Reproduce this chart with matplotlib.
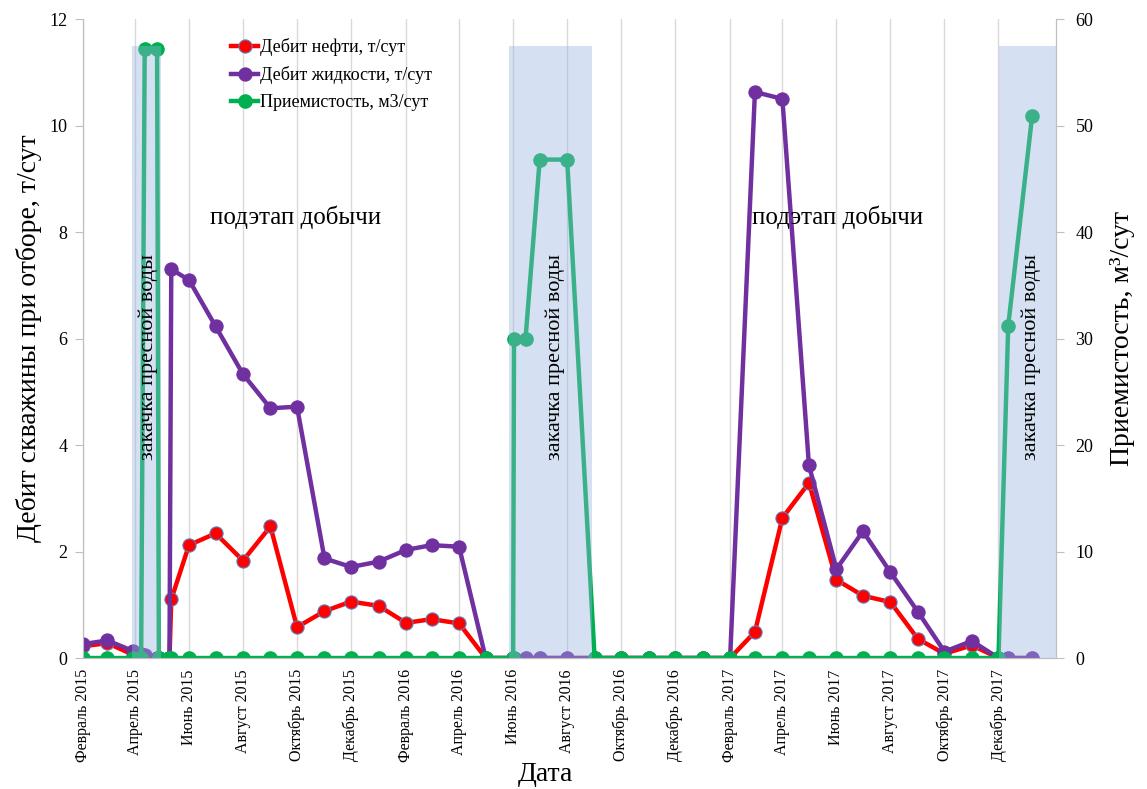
import numpy as np
import matplotlib
matplotlib.use('Agg')
import matplotlib.pyplot as plt
import matplotlib.dates as mdates
from matplotlib.ticker import FuncFormatter, MultipleLocator
from datetime import datetime

plt.rcParams['font.family'] = ['Liberation Serif', 'DejaVu Serif']

# даты замеров
dates = ['2015-02-01', '2015-03-01', '2015-03-30', '2015-04-08', '2015-04-12',
         '2015-04-26', '2015-04-28', '2015-05-10', '2015-05-12',
         '2015-06-01', '2015-07-01', '2015-08-01', '2015-09-01', '2015-10-01',
         '2015-11-01', '2015-12-01', '2016-01-01', '2016-02-01', '2016-03-01',
         '2016-04-01', '2016-05-01',
         '2016-06-01', '2016-06-02', '2016-06-15', '2016-07-01', '2016-08-01',
         '2016-09-01', '2016-10-01', '2016-11-01', '2016-12-01',
         '2017-01-01', '2017-02-01', '2017-03-01', '2017-04-01', '2017-05-01',
         '2017-06-01', '2017-07-01', '2017-08-01', '2017-09-01', '2017-10-01',
         '2017-11-01', '2017-12-01', '2017-12-12', '2018-01-08']

oil = [0.22, 0.28, 0.06, 0.03, 0, 0, 0, 0, 1.10,
       2.12, 2.34, 1.83, 2.47, 0.58, 0.88, 1.06, 0.98, 0.66, 0.73, 0.65, 0,
       0, 0, 0, 0, 0, 0, 0, 0, 0,
       0, 0, 0.49, 2.63, 3.29, 1.47, 1.17, 1.05, 0.36, 0.08, 0.24, 0,
       0, 0]

liquid = [0.26, 0.33, 0.13, 0.08, 0.05, 0, 0, 0, 7.30,
          7.10, 6.23, 5.33, 4.69, 4.72, 1.87, 1.71, 1.81, 2.03, 2.12, 2.09, 0,
          0, 0, 0, 0, 0, 0, 0, 0, 0,
          0, 0, 10.63, 10.50, 3.62, 1.67, 2.38, 1.61, 0.87, 0.12, 0.32, 0,
          0, 0]

injectivity = [0, 0, 0, 0, 57.2, 57.2, 0, 0, 0,
               0, 0, 0, 0, 0, 0, 0, 0, 0, 0, 0, 0,
               0, 30.0, 30.0, 46.8, 46.8, 0, 0, 0, 0,
               0, 0, 0, 0, 0, 0, 0, 0, 0, 0, 0, 0,
               31.2, 50.9]

# периоды закачки пресной воды
inj_start = ['2015-03-29', '2016-05-27', '2017-12-02']
inj_end = ['2015-04-30', '2016-08-29', '2018-02-04']
inj_top = 57.5

# подписи этапов
stage_text = ['подэтап добычи', 'подэтап добычи']
stage_x = ['2015-09-29', '2017-06-02']
inj_text_x = ['2015-04-16', '2016-07-19', '2018-01-07']

months = ['Январь', 'Февраль', 'Март', 'Апрель', 'Май', 'Июнь', 'Июль',
          'Август', 'Сентябрь', 'Октябрь', 'Ноябрь', 'Декабрь']
tick_dates = ['2015-02-01', '2015-04-01', '2015-06-01', '2015-08-01',
              '2015-10-01', '2015-12-01', '2016-02-01', '2016-04-01',
              '2016-06-01', '2016-08-01', '2016-10-01', '2016-12-01',
              '2017-02-01', '2017-04-01', '2017-06-01', '2017-08-01',
              '2017-10-01', '2017-12-01']


def d(s):
    return datetime.strptime(s, '%Y-%m-%d')


x = [d(s) for s in dates]

fig = plt.figure(figsize=(11.47, 7.89), dpi=100)
ax = fig.add_axes([0.0721, 0.166, 0.8486, 0.8099])
ax2 = ax.twinx()

grey = '#BFBFBF'
red = '#FF0000'
purple = '#7030A0'
green = '#00B050'

ax.plot(x, oil, color=red, lw=3.2, marker='o', ms=9.5, mfc=red,
        mec='#5B7FC0', mew=0.8, zorder=3, label='Дебит нефти, т/сут')
ax.plot(x, liquid, color=purple, lw=3.2, marker='o', ms=9.5, mfc=purple,
        mec=purple, mew=0.8, zorder=4, label='Дебит жидкости, т/сут')
ax2.plot(x, injectivity, color=green, lw=3.2, marker='o', ms=9.5, mfc=green,
         mec=green, zorder=2, label='Приемистость, м3/сут')

for s, e in zip(inj_start, inj_end):
    ax2.fill_between([d(s), d(e)], 0, inj_top, color=(0.59, 0.71, 0.88),
                     alpha=0.4, lw=0, zorder=3)

for t, sx in zip(stage_text, stage_x):
    ax.text(d(sx), 8.28, t, fontsize=18, ha='center', va='center', zorder=6)
for sx in inj_text_x:
    ax2.text(d(sx), 28.3, 'закачка пресной воды', fontsize=16, rotation=90,
             ha='center', va='center', zorder=6)

xmin, xmax = d('2015-02-01'), d('2018-02-04')
ax.set_xlim(xmin, xmax)
ax.set_ylim(0, 12)
ax2.set_ylim(0, 60)
ax.yaxis.set_major_locator(MultipleLocator(2))
ax2.yaxis.set_major_locator(MultipleLocator(10))

ax.set_xticks([d(s) for s in tick_dates])
ax.xaxis.set_major_formatter(FuncFormatter(
    lambda v, p: '%s %d' % (months[mdates.num2date(v).month - 1],
                            mdates.num2date(v).year)))
for lab in ax.get_xticklabels():
    lab.set_rotation(90)
ax.tick_params(axis='x', length=0, labelsize=11.5, pad=8)
ax.tick_params(axis='y', length=6, color=grey, labelsize=13, pad=5)
ax2.tick_params(axis='y', length=6, color=grey, labelsize=13, pad=8)
ax.grid(axis='x', color='#D9D9D9', lw=1)
ax.set_axisbelow(True)

for a in (ax, ax2):
    a.spines['top'].set_visible(False)
    for side in ('left', 'right', 'bottom'):
        a.spines[side].set_color(grey)

ax.set_ylabel('Дебит скважины при отборе, т/сут', fontsize=20, labelpad=5)
ax2.set_ylabel('Приемистость, м³/сут', fontsize=20, labelpad=12)
ax.set_xlabel('Дата', fontsize=20)
ax.xaxis.set_label_coords(0.475, -0.163)

h1, l1 = ax.get_legend_handles_labels()
h2, l2 = ax2.get_legend_handles_labels()
ax2.legend(h1 + h2, l1 + l2, loc='upper left', bbox_to_anchor=(0.136, 0.995),
           frameon=False, fontsize=13, handlelength=1.5, handletextpad=0.1,
           labelspacing=0.55)

fig.savefig('out.png', dpi=100)
